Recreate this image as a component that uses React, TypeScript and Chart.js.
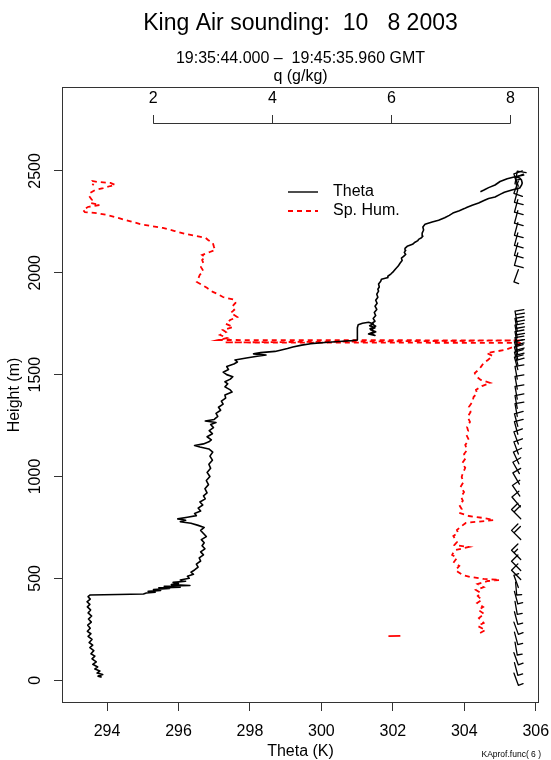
import React, { useEffect, useRef } from 'react';
import { Chart, registerables } from 'chart.js';

Chart.register(...registerables);

// ---- text ----
const titleText = 'King Air sounding:  10   8 2003';
const subtitleText = '19:35:44.000 \u2013  19:45:35.960 GMT';
const qAxisTitle = 'q (g/kg)';
const xAxisTitle = 'Theta (K)';
const yAxisTitle = 'Height (m)';
const footnoteText = 'KAprof.func( 6 )';
const legendLabels = ['Theta', 'Sp. Hum.'];

// ---- ticks ----
const thetaTicks = [294, 296, 298, 300, 302, 304, 306];
const heightTicks = [0, 500, 1000, 1500, 2000, 2500];
const qTicks = [2, 4, 6, 8];

// ---- potential temperature profile (m, K) ----
const thetaHeights = [
  15, 20, 28, 35, 45, 55, 65, 78, 90, 105, 118, 130, 145, 160, 172, 185, 200, 215, 228, 240,
  255, 270, 285, 300, 315, 330, 345, 360, 372, 385, 398, 410, 418, 421, 423, 428, 432, 436, 440, 445,
  450, 453, 457, 461, 465, 469, 475, 480, 486, 492, 500, 510, 520, 530, 541, 555, 570, 585, 600, 615,
  630, 645, 660, 675, 690, 705, 720, 735, 750, 760, 770, 778, 785, 792, 800, 808, 818, 830, 845, 860,
  875, 890, 905, 920, 940, 960, 980, 1000, 1020, 1040, 1060, 1080, 1100, 1120, 1135, 1145, 1152, 1160, 1170, 1180,
  1195, 1210, 1225, 1240, 1255, 1265, 1272, 1280, 1295, 1310, 1325, 1340, 1355, 1370, 1385, 1400, 1415, 1425, 1440, 1455,
  1465, 1478, 1490, 1500, 1512, 1525, 1540, 1552, 1562, 1572, 1582, 1590, 1596, 1602, 1608, 1614, 1620, 1628, 1636, 1645,
  1652, 1658, 1663, 1667, 1670, 1690, 1710, 1730, 1745, 1752, 1757, 1750, 1740, 1730, 1720, 1710, 1700, 1692, 1700, 1712,
  1725, 1738, 1750, 1762, 1775, 1790, 1805, 1820, 1836, 1850, 1865, 1880, 1895, 1910, 1919, 1930, 1945, 1958, 1968, 1976,
  1983, 1995, 2007, 2020, 2033, 2047, 2060, 2072, 2081, 2090, 2100, 2110, 2120, 2130, 2140, 2150, 2158, 2164, 2172, 2180,
  2195, 2210, 2225, 2238, 2249, 2258, 2270, 2282, 2293, 2305, 2315, 2322, 2332, 2343, 2355, 2365, 2372, 2385, 2395, 2406,
  2416, 2430, 2441, 2455, 2465, 2471, 2462, 2448, 2431, 2418, 2406, 2398,
];
const thetaValues = [
  293.85, 293.75, 293.88, 293.72, 293.8, 293.66, 293.74, 293.6, 293.7, 293.58, 293.66, 293.55, 293.63, 293.52, 293.6, 293.5, 293.58, 293.47, 293.55, 293.45,
  293.53, 293.46, 293.56, 293.48, 293.57, 293.47, 293.54, 293.45, 293.52, 293.44, 293.53, 293.47, 293.52, 294.3, 295.02, 295.1, 295.35, 295.15, 295.5, 295.3,
  295.75, 295.45, 296.05, 295.6, 296.32, 295.8, 296.0, 295.85, 296.2, 296.05, 296.3, 296.25, 296.42, 296.35, 296.45, 296.55, 296.5, 296.62, 296.58, 296.7,
  296.62, 296.74, 296.66, 296.72, 296.64, 296.78, 296.7, 296.62, 296.72, 296.55, 296.35, 296.05, 296.2, 295.98, 296.25, 296.5, 296.45, 296.62, 296.55, 296.68,
  296.6, 296.75, 296.7, 296.8, 296.74, 296.84, 296.78, 296.88, 296.8, 296.9, 296.85, 296.95, 296.88, 296.96, 296.85, 296.6, 296.45, 296.7, 296.85, 296.92,
  296.8, 296.95, 296.86, 296.98, 296.9, 297.05, 296.75, 297.0, 297.1, 297.05, 297.18, 297.12, 297.25, 297.2, 297.32, 297.3, 297.5, 297.45, 297.3, 297.38,
  297.3, 297.45, 297.52, 297.35, 297.25, 297.4, 297.35, 297.55, 297.65, 297.58, 297.9, 298.2, 298.45, 298.1, 298.3, 298.7, 298.85, 299.05, 299.2, 299.45,
  299.7, 300.1, 300.5, 300.85, 301.0, 301.0, 301.02, 301.0, 301.03, 301.15, 301.32, 301.45, 301.35, 301.5, 301.38, 301.52, 301.4, 301.5, 301.32, 301.48,
  301.36, 301.52, 301.4, 301.5, 301.45, 301.52, 301.48, 301.55, 301.5, 301.56, 301.52, 301.58, 301.55, 301.6, 301.58, 301.62, 301.6, 301.66, 301.68, 301.84,
  301.86, 301.95, 302.02, 302.08, 302.15, 302.2, 302.26, 302.24, 302.3, 302.36, 302.32, 302.36, 302.34, 302.4, 302.55, 302.62, 302.7, 302.72, 302.8, 302.84,
  302.82, 302.86, 302.84, 302.9, 303.1, 303.28, 303.45, 303.58, 303.68, 303.86, 304.0, 304.08, 304.22, 304.4, 304.55, 304.68, 304.86, 305.0, 305.12, 305.33,
  305.55, 305.6, 305.62, 305.6, 305.55, 305.42, 305.2, 305.0, 304.86, 304.68, 304.55, 304.45,
];

// ---- specific humidity profile (m, g/kg) ----
const qHeights = [
  232, 246, 266, 281, 305, 325, 345, 359, 379, 394, 413, 428, 443, 457, 472, 487, 492, 497, 507, 516,
  531, 541, 561, 580, 600, 615, 625, 639, 654, 664, 678, 688, 708, 723, 737, 757, 772, 786, 796, 806,
  821, 840, 860, 880, 900, 924, 948, 973, 997, 1017, 1042, 1066, 1091, 1110, 1130, 1155, 1180, 1204, 1223, 1243,
  1268, 1292, 1317, 1341, 1366, 1390, 1410, 1425, 1444, 1459, 1474, 1493, 1508, 1523, 1537, 1557, 1572, 1592, 1606, 1621,
  1636, 1646, 1656, 1658, 1668, 1670, 1680, 1695, 1709, 1719, 1734, 1749, 1768, 1783, 1803, 1818, 1832, 1852, 1867, 1881,
  1896, 1906, 1926, 1940, 1955, 1975, 1989, 2009, 2028, 2048, 2063, 2077, 2087, 2102, 2112, 2126, 2146, 2161, 2171, 2180,
  2190, 2205, 2220, 2230, 2239, 2254, 2269, 2284, 2293, 2298, 2308, 2323, 2333, 2343, 2357, 2377, 2392, 2406, 2416, 2426,
  2431, 2441, 2446, 2451, 2441, 2431,
];
const qValues = [
  7.49, 7.58, 7.45, 7.55, 7.47, 7.56, 7.46, 7.54, 7.44, 7.52, 7.45, 7.5, 7.42, 7.55, 7.45, 7.62, 7.82, 7.55, 7.32, 7.2,
  7.12, 7.08, 7.14, 7.05, 7.1, 7.02, 7.04, 7.08, 7.3, 7.06, 7.1, 7.08, 7.04, 7.12, 7.1, 7.18, 7.25, 7.72, 7.55, 7.3,
  7.14, 7.18, 7.14, 7.2, 7.17, 7.22, 7.16, 7.21, 7.18, 7.2, 7.24, 7.19, 7.25, 7.22, 7.27, 7.24, 7.3, 7.26, 7.29, 7.27,
  7.32, 7.28, 7.33, 7.3, 7.36, 7.38, 7.44, 7.42, 7.52, 7.66, 7.5, 7.42, 7.4, 7.46, 7.5, 7.55, 7.62, 7.7, 7.6, 7.9,
  8.05, 8.15, 8.2, 3.2, 8.18, 3.09, 3.24, 3.12, 3.22, 3.17, 3.34, 3.22, 3.29, 3.41, 3.3, 3.36, 3.32, 3.38, 3.37, 3.17,
  3.08, 3.0, 2.9, 2.82, 2.73, 2.76, 2.78, 2.84, 2.8, 2.84, 2.82, 2.87, 2.82, 2.95, 3.04, 3.02, 3.0, 2.92, 2.88, 2.73,
  2.55, 2.36, 2.16, 1.96, 1.78, 1.6, 1.41, 1.22, 1.05, 0.85, 0.82, 0.9, 1.1, 0.94, 0.97, 0.92, 0.94, 1.02, 1.16, 1.28,
  1.36, 1.28, 1.06, 0.97, 0.95, 1.0,
];
const qStrayHeights = [216, 218];
const qStrayValues = [5.95, 6.15];

// ---- wind barbs (m, deg from, knots) ----
const barbHeights = [
  5, 55, 105, 155, 205, 255, 305, 355, 405, 450, 485, 517, 561, 615, 713, 815, 875, 930, 990, 1042,
  1091, 1140, 1189, 1238, 1277, 1326, 1366, 1411, 1460, 1509, 1555, 1580, 1605, 1630, 1650, 1680, 1712, 1745, 1780, 1985,
  2067, 2116, 2165, 2215, 2274, 2328, 2377, 2420, 2440, 2455, 2468,
];
const barbDirs = [
  160, 165, 160, 170, 165, 160, 165, 170, 165, 175, 340, 315, 315, 315, 315, 315, 320, 325, 330, 330,
  335, 340, 340, 345, 345, 350, 350, 350, 350, 350, 345, 345, 345, 345, 350, 350, 350, 350, 350, 200,
  195, 195, 195, 195, 195, 195, 195, 200, 350, 340, 10,
];
const barbSpeeds = [
  5, 5, 5, 5, 5, 5, 5, 5, 5, 5, 5, 10, 10, 15, 20, 20, 10, 10, 10, 10,
  10, 10, 10, 10, 10, 10, 10, 10, 10, 10, 20, 20, 20, 20, 20, 20, 20, 20, 20, 5,
  10, 10, 10, 10, 10, 10, 10, 10, 15, 20, 10,
];
const barbTheta = 305.45;

const FONT = 'Liberation Sans, Arial, Helvetica, sans-serif';

function drawBarb(ctx: CanvasRenderingContext2D, px: number, py: number, dirDeg: number, speed: number) {
  const L = 13, B = 9, H = 5, gap = 3.5;
  const r = (dirDeg * Math.PI) / 180;
  const ux = Math.sin(r), uy = -Math.cos(r);
  const sx = px - (ux * L) / 2, sy = py - (uy * L) / 2;
  const tx = px + (ux * L) / 2, ty = py + (uy * L) / 2;
  let qx = -uy, qy = ux;
  if (qx < 0) { qx = -qx; qy = -qy; }
  ctx.beginPath();
  ctx.moveTo(sx, sy);
  ctx.lineTo(tx, ty);
  let rem = speed;
  let k = 0;
  while (rem >= 10) {
    const bx = tx - ux * gap * k, by = ty - uy * gap * k;
    ctx.moveTo(bx, by);
    ctx.lineTo(bx + qx * B, by + qy * B);
    rem -= 10;
    k++;
  }
  if (rem >= 5) {
    const bx = tx - ux * gap * k, by = ty - uy * gap * k;
    ctx.moveTo(bx, by);
    ctx.lineTo(bx + qx * H, by + qy * H);
  }
  ctx.stroke();
}

const rStylePlugin = {
  id: 'rStyle',
  afterDatasetsDraw(chart: any) {
    const { ctx, chartArea: a, scales } = chart;
    const xs = scales.x, ys = scales.y, xq = scales.xq;
    ctx.save();
    // plot box
    ctx.strokeStyle = '#333';
    ctx.lineWidth = 1;
    ctx.setLineDash([]);
    ctx.strokeRect(a.left + 0.5, a.top + 0.5, a.right - a.left - 1, a.bottom - a.top - 1);

    // q axis inside top of box
    const yLine = a.top + 36;
    const q0 = xq.getPixelForValue(qTicks[0]);
    const q1 = xq.getPixelForValue(qTicks[qTicks.length - 1]);
    ctx.beginPath();
    ctx.moveTo(q0, yLine + 0.5);
    ctx.lineTo(q1, yLine + 0.5);
    qTicks.forEach((v) => {
      const p = Math.round(xq.getPixelForValue(v)) + 0.5;
      ctx.moveTo(p, yLine + 0.5);
      ctx.lineTo(p, yLine - 8);
    });
    ctx.stroke();
    ctx.fillStyle = '#000';
    ctx.font = `16px ${FONT}`;
    ctx.textAlign = 'center';
    ctx.textBaseline = 'middle';
    qTicks.forEach((v) => {
      ctx.fillText(String(v), xq.getPixelForValue(v), a.top + 12);
    });

    // wind barbs
    ctx.strokeStyle = '#000';
    ctx.lineWidth = 1.3;
    ctx.lineCap = 'round';
    const bx = xs.getPixelForValue(barbTheta);
    barbHeights.forEach((h, i) => {
      drawBarb(ctx, bx, ys.getPixelForValue(h), barbDirs[i], barbSpeeds[i]);
    });
    ctx.lineCap = 'butt';

    // legend
    const lx0 = a.left + 226, lx1 = a.left + 256, tx = a.left + 271;
    const ly0 = a.top + 105, ly1 = a.top + 124;
    const ds = chart.data.datasets;
    ctx.lineWidth = 1.4;
    ctx.strokeStyle = ds[0].borderColor;
    ctx.beginPath();
    ctx.moveTo(lx0, ly0);
    ctx.lineTo(lx1, ly0);
    ctx.stroke();
    ctx.strokeStyle = ds[1].borderColor;
    ctx.lineWidth = 1.8;
    ctx.setLineDash(ds[1].borderDash);
    ctx.beginPath();
    ctx.moveTo(lx0, ly1);
    ctx.lineTo(lx1, ly1);
    ctx.stroke();
    ctx.setLineDash([]);
    ctx.textAlign = 'left';
    ctx.fillStyle = '#000';
    ctx.font = `16px ${FONT}`;
    ctx.fillText(legendLabels[0], tx, ly0);
    ctx.fillText(legendLabels[1], tx, ly1);
    ctx.restore();
  },
  afterDraw(chart: any) {
    const { ctx, chartArea: a, width, height } = chart;
    const cx = (a.left + a.right) / 2;
    ctx.save();
    ctx.fillStyle = '#000';
    ctx.textAlign = 'center';
    ctx.textBaseline = 'middle';
    ctx.font = `23px ${FONT}`;
    ctx.fillText(titleText, cx, 24);
    ctx.font = `16px ${FONT}`;
    ctx.fillText(subtitleText, cx, 59);
    ctx.fillText(qAxisTitle, cx, 77);
    ctx.font = `8.5px ${FONT}`;
    ctx.textAlign = 'right';
    ctx.fillText(footnoteText, width - 10, height - 5);
    ctx.restore();
  },
};

export default function App() {
  const canvasRef = useRef<HTMLCanvasElement | null>(null);

  useEffect(() => {
    const canvas = canvasRef.current;
    if (!canvas) return;
    const thetaData = thetaHeights.map((h, i) => ({ x: thetaValues[i], y: h }));
    const qData = qHeights.map((h, i) => ({ x: qValues[i], y: h }));
    const qStray = qStrayHeights.map((h, i) => ({ x: qStrayValues[i], y: h }));
    const tickFont = { family: FONT, size: 16 };

    const chart = new Chart(canvas, {
      type: 'scatter',
      data: {
        datasets: [
          {
            label: legendLabels[0],
            data: thetaData,
            xAxisID: 'x',
            yAxisID: 'y',
            showLine: true,
            borderColor: '#000000',
            borderWidth: 1.6,
            pointRadius: 0,
            borderJoinStyle: 'round',
          },
          {
            label: legendLabels[1],
            data: qData,
            xAxisID: 'xq',
            yAxisID: 'y',
            showLine: true,
            borderColor: '#ff0000',
            borderWidth: 1.8,
            borderDash: [5, 4],
            pointRadius: 0,
          },
          {
            label: legendLabels[1],
            data: qStray,
            xAxisID: 'xq',
            yAxisID: 'y',
            showLine: true,
            borderColor: '#ff0000',
            borderWidth: 1.8,
            pointRadius: 0,
          },
        ],
      } as any,
      options: {
        animation: false,
        responsive: false,
        maintainAspectRatio: false,
        layout: { padding: { left: 0, right: 12, top: 87, bottom: 0 } },
        plugins: {
          legend: { display: false },
          tooltip: { enabled: false },
          title: { display: false },
        },
        scales: {
          x: {
            type: 'linear',
            position: 'bottom',
            min: 292.74,
            max: 306.09,
            afterBuildTicks: (s: any) => { s.ticks = thetaTicks.map((v) => ({ value: v })); },
            afterFit: (s: any) => { s.height = 57; s.paddingLeft = 0; s.paddingRight = 0; },
            grid: { display: true, drawOnChartArea: false, drawTicks: true, tickLength: 8, color: '#333', lineWidth: 1 },
            border: { display: false },
            ticks: { font: tickFont, color: '#000', padding: 11, maxRotation: 0, autoSkip: false, callback: (v: any) => String(v) },
            title: { display: true, text: xAxisTitle, font: tickFont, color: '#000', padding: { top: 0, bottom: -1 } },
          },
          xq: {
            type: 'linear',
            axis: 'x',
            display: false,
            min: 0.466,
            max: 8.479,
          },
          y: {
            type: 'linear',
            position: 'left',
            min: -112,
            max: 2912,
            afterBuildTicks: (s: any) => { s.ticks = heightTicks.map((v) => ({ value: v })); },
            afterFit: (s: any) => { s.width = 62; s.paddingTop = 0; s.paddingBottom = 0; },
            grid: { display: true, drawOnChartArea: false, drawTicks: true, tickLength: 8, color: '#333', lineWidth: 1 },
            border: { display: false },
            ticks: { font: tickFont, color: '#000', padding: 1, minRotation: 90, maxRotation: 90, crossAlign: 'center', autoSkip: false, callback: (v: any) => String(v) },
            title: { display: true, text: yAxisTitle, font: tickFont, color: '#000', padding: { top: 5, bottom: 0 } },
          },
        },
      } as any,
      plugins: [rStylePlugin],
    });
    return () => chart.destroy();
  }, []);

  return (
    <div style={{ position: 'absolute', left: 0, top: 0, width: 551, height: 760, background: '#fff' }}>
      <canvas ref={canvasRef} width={551} height={760} style={{ display: 'block', width: 551, height: 760 }} />
    </div>
  );
}
